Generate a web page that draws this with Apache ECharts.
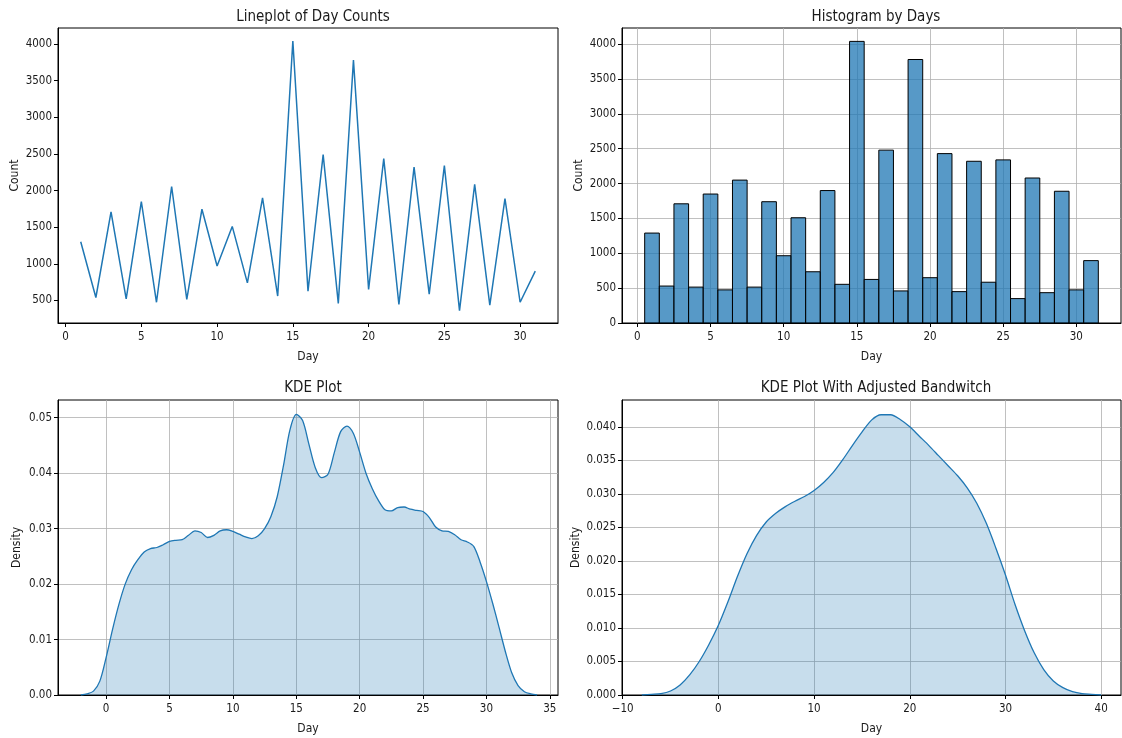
<!DOCTYPE html>
<html>
<head>
<meta charset="utf-8">
<script src="https://cdn.jsdelivr.net/npm/echarts@6/dist/echarts.min.js"></script>
<style>
html,body{margin:0;padding:0;background:#fff;}
#chart{width:1122px;height:738px;}
</style>
</head>
<body>
<div id="chart"></div>
<script>
// ---- data ----
const days = [1,2,3,4,5,6,7,8,9,10,11,12,13,14,15,16,17,18,19,20,21,22,23,24,25,26,27,28,29,30,31];
const dayCounts = [1300,540,1710,520,1850,475,2055,515,1745,970,1510,740,1900,560,4040,625,2490,460,3780,650,2435,445,2320,585,2340,360,2085,435,1890,475,900];
const histCounts = [1290,530,1710,515,1850,475,2050,515,1740,965,1510,735,1900,555,4040,625,2480,460,3780,650,2430,450,2320,585,2340,350,2080,435,1890,475,895];
const binWidth = 1;

const kdeX = [-2,-1.5,-1,-0.5,0,0.5,1,1.5,2,2.5,3,3.5,4,4.5,5,5.5,6,6.5,7,7.5,8,8.5,9,9.5,10,10.5,11,11.5,12,12.5,13,13.5,14,14.5,15,15.5,16,16.5,17,17.5,18,18.5,19,19.5,20,20.5,21,21.5,22,22.5,23,23.5,24,24.5,25,25.5,26,26.5,27,27.5,28,28.5,29,29.5,30,30.5,31,31.5,32,32.5,33,33.5,34];
const kdeY = [0,0.0002,0.0007,0.0025,0.0068,0.0118,0.0163,0.0200,0.0226,0.0244,0.0258,0.0264,0.0266,0.0271,0.0277,0.0279,0.0280,0.0288,0.0296,0.0293,0.0284,0.0288,0.0296,0.0298,0.0295,0.0290,0.0285,0.0282,0.0287,0.0300,0.0322,0.0358,0.0415,0.0478,0.0506,0.0495,0.0452,0.0410,0.0392,0.0398,0.0437,0.0475,0.0485,0.0472,0.0438,0.0400,0.0372,0.0350,0.0334,0.0332,0.0338,0.0339,0.0335,0.0333,0.0331,0.0320,0.0303,0.0296,0.0295,0.0289,0.0280,0.0276,0.0268,0.0240,0.0205,0.0165,0.0122,0.0078,0.0040,0.0017,0.0006,0.0002,0];

const kdeAdjX = [-8,-7,-6,-5,-4,-3,-2,-1,0,1,2,3,4,5,6,7,8,9,10,11,12,13,14,15,16,17,18,19,20,21,22,23,24,25,26,27,28,29,30,31,32,33,34,35,36,37,38,39,40];
const kdeAdjY = [0,0.0001,0.0002,0.0006,0.0015,0.003,0.005,0.0075,0.0104,0.0139,0.0177,0.0211,0.0238,0.0258,0.0271,0.0281,0.0289,0.0296,0.0305,0.0317,0.0332,0.0351,0.0372,0.0392,0.0410,0.0418,0.0418,0.0411,0.0400,0.0386,0.0372,0.0357,0.0342,0.0327,0.0309,0.0286,0.0256,0.0219,0.0179,0.0135,0.0096,0.0063,0.0038,0.0021,0.0011,0.0005,0.0002,0.0001,0];

const xTicksDay = [0,5,10,15,20,25,30];
const xTicksKde = [0,5,10,15,20,25,30,35];
const xTicksAdj = [-10,0,10,20,30,40];
const yTicksLine = [500,1000,1500,2000,2500,3000,3500,4000];
const yTicksHist = [0,500,1000,1500,2000,2500,3000,3500,4000];
const yTicksKde = [0,0.01,0.02,0.03,0.04,0.05];
const yTicksAdj = [0,0.005,0.01,0.015,0.02,0.025,0.03,0.035,0.04];

// ---- styling ----
const FONT = "'DejaVu Sans Condensed','DejaVu Sans',sans-serif";
const BLUE = '#1f77b4';
const TXT = '#1a1a1a';
const GRIDC = '#b0b0b0';
const TICKFS = 11.5;

function fmtMinus(v){ return v < 0 ? '\u2212' + Math.abs(v) : String(v); }

function xAxis(idx, min, max, ticks, showGrid){
  return {
    type:'value', gridIndex:idx, min:min, max:max,
    name:'Day', nameLocation:'middle', nameGap:28,
    nameTextStyle:{fontFamily:FONT, fontSize:12, color:TXT},
    axisLine:{show:true, onZero:false, lineStyle:{color:'#000', width:1}},
    axisTick:{show:true, length:4, customValues:ticks, lineStyle:{color:'#000'}},
    axisLabel:{show:true, margin:8, customValues:ticks, fontFamily:FONT, fontSize:TICKFS, color:TXT, formatter: fmtMinus},
    splitLine:{show:showGrid, lineStyle:{color:GRIDC, width:0.8}}
  };
}
function yAxis(idx, min, max, ticks, showGrid, name, fmt, gap){
  return {
    type:'value', gridIndex:idx, min:min, max:max,
    name:name, nameLocation:'middle', nameGap:gap,
    nameTextStyle:{fontFamily:FONT, fontSize:12, color:TXT},
    axisLine:{show:true, onZero:false, lineStyle:{color:'#000', width:1}},
    axisTick:{show:true, length:4, customValues:ticks, lineStyle:{color:'#000'}},
    axisLabel:{show:true, margin:6, customValues:ticks, fontFamily:FONT, fontSize:TICKFS, color:TXT, formatter: fmt},
    splitLine:{show:showGrid, lineStyle:{color:GRIDC, width:0.8}}
  };
}

const gridBase = {show:true, borderColor:'#000', borderWidth:1, backgroundColor:'transparent', containLabel:false};
const titleStyle = {fontFamily:FONT, fontSize:15, fontWeight:'normal', color:TXT};

const option = {
  animation:false,
  backgroundColor:'#fff',
  title:[
    {text:'Lineplot of Day Counts', left:308, top:5, textAlign:'center', textStyle:titleStyle},
    {text:'Histogram by Days', left:871, top:5, textAlign:'center', textStyle:titleStyle},
    {text:'KDE Plot', left:308, top:376, textAlign:'center', textStyle:titleStyle},
    {text:'KDE Plot With Adjusted Bandwitch', left:871, top:376, textAlign:'center', textStyle:titleStyle}
  ],
  grid:[
    Object.assign({left:58, top:28, width:500, height:295}, gridBase),
    Object.assign({left:622, top:28, width:499, height:295}, gridBase),
    Object.assign({left:58, top:400, width:500, height:295}, gridBase),
    Object.assign({left:622, top:400, width:499, height:295}, gridBase)
  ],
  xAxis:[
    xAxis(0, -0.5, 32.5, xTicksDay, false),
    xAxis(1, -1.05, 33.05, xTicksDay, true),
    xAxis(2, -3.8, 35.65, xTicksKde, true),
    xAxis(3, -10.07, 42.07, xTicksAdj, true)
  ],
  yAxis:[
    yAxis(0, 192, 4218, yTicksLine, false, 'Count', v=>String(v), 37),
    yAxis(1, 0, 4232, yTicksHist, true, 'Count', v=>String(v), 37),
    yAxis(2, 0, 0.0532, yTicksKde, true, 'Density', v=>v.toFixed(2), 35),
    yAxis(3, 0, 0.044, yTicksAdj, true, 'Density', v=>v.toFixed(3), 40)
  ],
  series:[
    {
      type:'line', xAxisIndex:0, yAxisIndex:0,
      data: days.map((d,i)=>[d, dayCounts[i]]),
      showSymbol:false, symbol:'none',
      lineStyle:{color:BLUE, width:1.5}
    },
    {
      type:'custom', xAxisIndex:1, yAxisIndex:1,
      data: days.map((d,i)=>[d, histCounts[i]]),
      encode:{x:0, y:1},
      renderItem:function(params, api){
        const x = api.value(0), y = api.value(1);
        const p0 = api.coord([x - binWidth/2, y]);
        const p1 = api.coord([x + binWidth/2, 0]);
        return {
          type:'rect',
          shape:{x:p0[0], y:p0[1], width:p1[0]-p0[0], height:p1[1]-p0[1]},
          style:{fill:'rgba(31,119,180,0.75)', stroke:'#000', lineWidth:1}
        };
      }
    },
    {
      type:'line', xAxisIndex:2, yAxisIndex:2,
      data: kdeX.map((x,i)=>[x, kdeY[i]]),
      smooth:0.3, showSymbol:false, symbol:'none',
      lineStyle:{color:BLUE, width:1.3},
      areaStyle:{color:'rgba(31,119,180,0.25)', opacity:1, origin:'start'}
    },
    {
      type:'line', xAxisIndex:3, yAxisIndex:3,
      data: kdeAdjX.map((x,i)=>[x, kdeAdjY[i]]),
      smooth:0.3, showSymbol:false, symbol:'none',
      lineStyle:{color:BLUE, width:1.3},
      areaStyle:{color:'rgba(31,119,180,0.25)', opacity:1, origin:'start'}
    }
  ]
};

const chart = echarts.init(document.getElementById('chart'), null, {renderer:'canvas'});
chart.setOption(option);
</script>
</body>
</html>
